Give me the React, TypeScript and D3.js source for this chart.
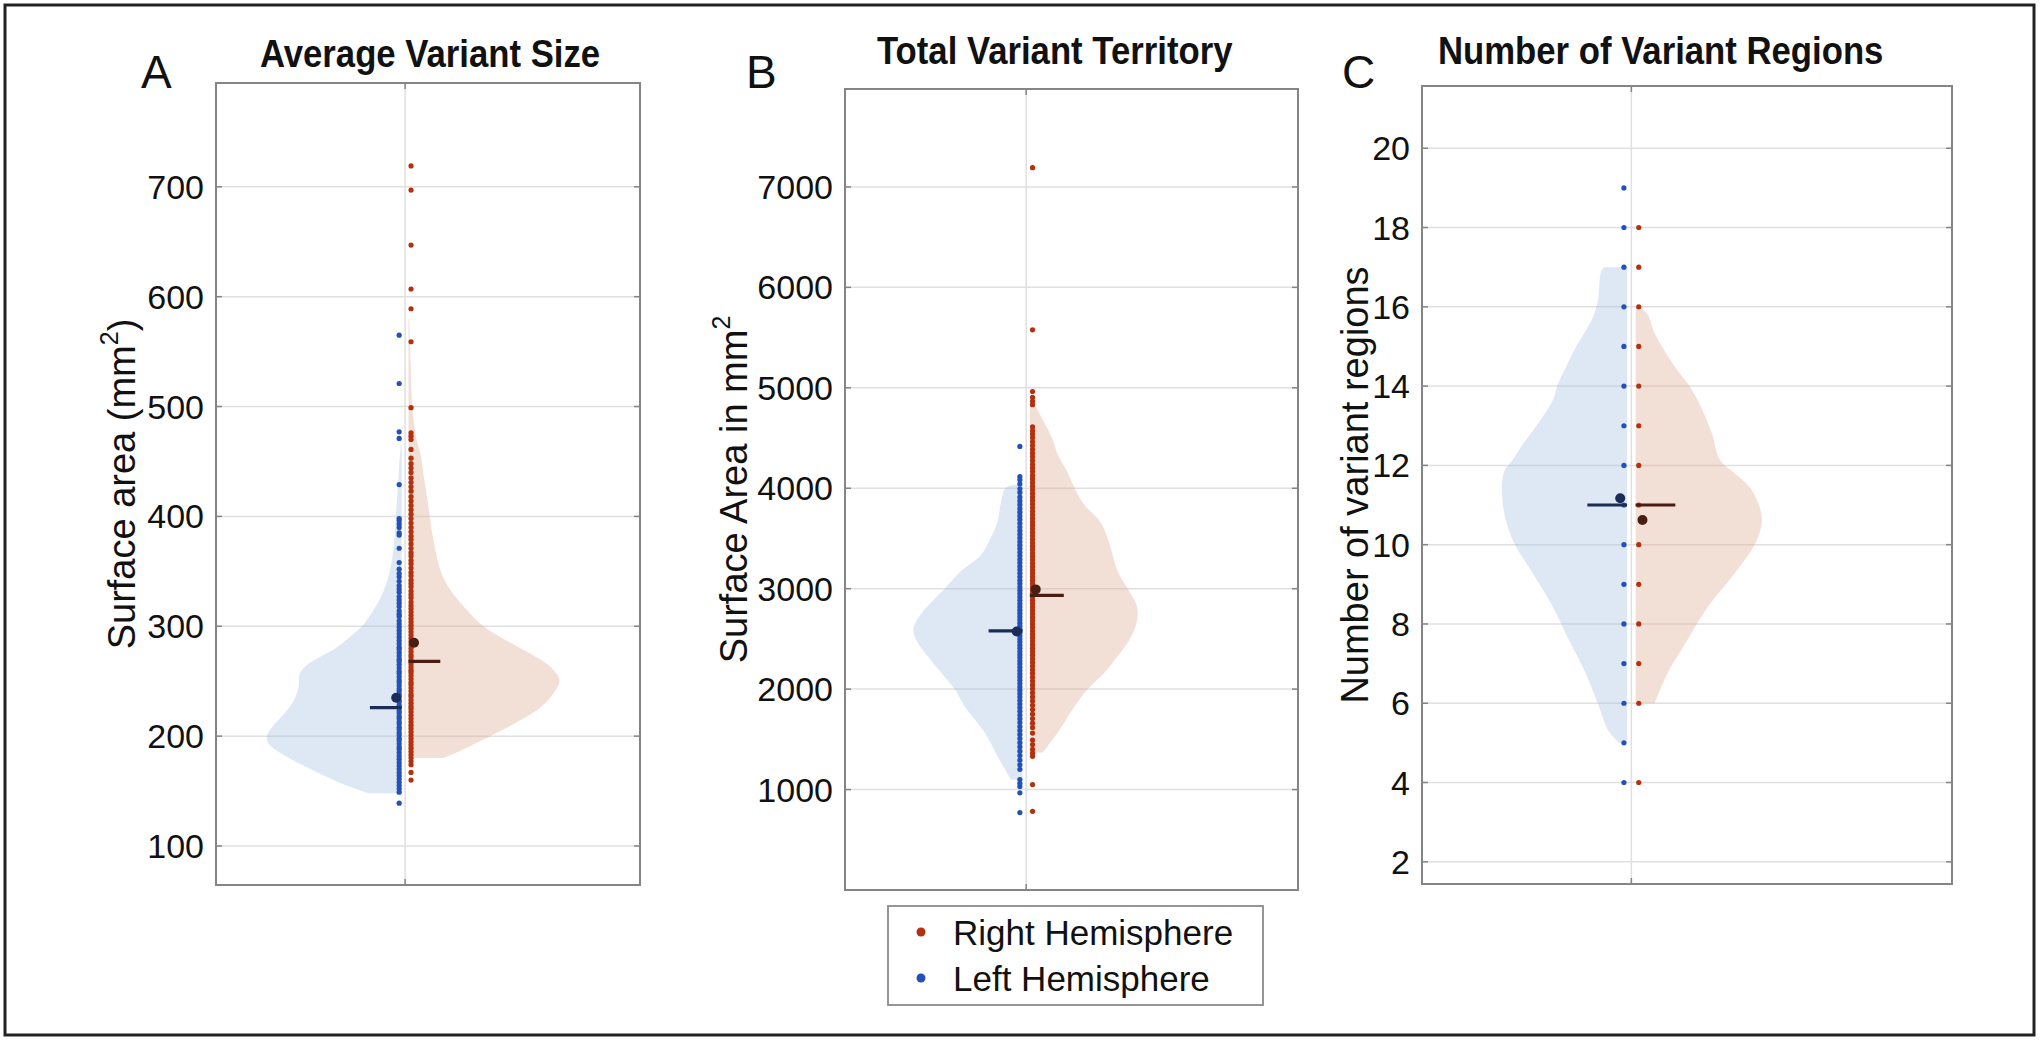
import React from "react";
import * as d3 from "d3";

const W = 2040;
const H = 1043;
const FONT = "Liberation Sans, Arial, Helvetica, sans-serif";

// ---- values ----
// panel A: average variant size (mm2), one value per subject
const avgSizeLeft = [565, 521, 477, 471, 429, 398, 396, 393, 390, 385, 383, 371, 358, 352, 348, 345, 341, 337, 334, 331, 327, 324, 321, 318, 314, 311, 309, 305, 302, 299, 296, 293, 290, 287, 284, 281, 279, 276, 273, 270, 268, 265, 262, 259, 257, 254, 251, 249, 246, 243, 241, 238, 236, 233, 231, 228, 226, 223, 221, 218, 216, 213, 211, 208, 206, 203, 201, 198, 196, 193, 190, 188, 185, 182, 179, 176, 173, 170, 167, 164, 161, 158, 155, 152, 149, 139];
const avgSizeRight = [719, 697, 647, 607, 589, 559, 499, 476, 473, 470, 461, 453, 448, 444, 440, 435, 431, 427, 423, 418, 414, 410, 406, 402, 398, 394, 390, 386, 382, 379, 375, 371, 367, 364, 360, 357, 353, 349, 346, 342, 339, 336, 332, 329, 326, 322, 319, 316, 313, 310, 307, 304, 301, 298, 295, 292, 289, 286, 283, 280, 277, 274, 272, 269, 266, 263, 260, 258, 255, 252, 249, 247, 244, 241, 238, 236, 233, 230, 227, 225, 222, 219, 216, 213, 210, 207, 204, 201, 198, 195, 192, 189, 186, 183, 180, 177, 174, 167, 160];
// panel B: total variant territory (mm2)
const totalTerrLeft = [4416, 4117, 4085, 4043, 3995, 3958, 3912, 3874, 3836, 3797, 3762, 3724, 3688, 3651, 3613, 3578, 3541, 3505, 3468, 3433, 3398, 3362, 3327, 3291, 3258, 3222, 3188, 3153, 3119, 3084, 3051, 3017, 2984, 2950, 2917, 2884, 2851, 2818, 2786, 2754, 2721, 2689, 2657, 2626, 2594, 2562, 2531, 2499, 2468, 2437, 2406, 2374, 2343, 2312, 2280, 2249, 2217, 2185, 2153, 2121, 2088, 2055, 2022, 1989, 1955, 1921, 1886, 1851, 1815, 1779, 1742, 1705, 1667, 1628, 1589, 1549, 1508, 1467, 1425, 1382, 1338, 1293, 1247, 1201, 1100, 1062, 1031, 968, 771];
const totalTerrRight = [7192, 5577, 4963, 4905, 4868, 4832, 4612, 4574, 4541, 4503, 4462, 4425, 4388, 4349, 4313, 4275, 4238, 4202, 4166, 4128, 4093, 4057, 4021, 3984, 3948, 3913, 3877, 3842, 3806, 3771, 3735, 3700, 3665, 3630, 3596, 3561, 3526, 3492, 3457, 3423, 3389, 3355, 3321, 3287, 3253, 3219, 3186, 3152, 3118, 3085, 3051, 3018, 2984, 2951, 2918, 2884, 2851, 2817, 2784, 2750, 2716, 2683, 2649, 2615, 2581, 2547, 2512, 2478, 2443, 2408, 2373, 2338, 2302, 2266, 2230, 2193, 2156, 2118, 2080, 2042, 2003, 1963, 1922, 1881, 1839, 1796, 1752, 1707, 1661, 1618, 1562, 1493, 1448, 1401, 1362, 1331, 1050, 783];
// panel C: number of variant regions
const regionsLeft = [4, 5, 6, 7, 8, 9, 10, 11, 12, 13, 14, 15, 16, 17, 18, 19];
const regionsRight = [4, 6, 7, 8, 9, 10, 11, 12, 13, 14, 15, 16, 17, 18];

// [left, right] hemisphere
const avgSizeMean = [235, 285];
const avgSizeMedian = [226, 268];
const totalTerrMean = [2573, 2993];
const totalTerrMedian = [2580, 2933];
const regionsMean = [11.17, 10.62];
const regionsMedian = [11, 11];

// half violin outlines: [value, half width in x-axis units]
const avgSizeLeftViolin = [[148, 0.078], [155, 0.13], [165, 0.189], [175, 0.241], [185, 0.288], [193, 0.314], [200, 0.318], [210, 0.302], [220, 0.278], [232, 0.255], [245, 0.243], [256, 0.241], [264, 0.226], [272, 0.193], [280, 0.156], [290, 0.123], [300, 0.094], [315, 0.066], [330, 0.045], [350, 0.028], [380, 0.017], [410, 0.012], [440, 0.007], [465, 0.002]];
const avgSizeRightViolin = [[180, 0.083], [185, 0.113], [197, 0.177], [200, 0.193], [211, 0.248], [226, 0.311], [239, 0.342], [251, 0.356], [263, 0.335], [275, 0.288], [287, 0.231], [300, 0.177], [318, 0.13], [333, 0.099], [348, 0.078], [378, 0.059], [409, 0.047], [439, 0.035], [457, 0.028], [470, 0.019], [500, 0.009], [540, 0.005], [580, 0.002]];
const totalTerrLeftViolin = [[1100, 0.026], [1330, 0.055], [1570, 0.084], [1830, 0.128], [2000, 0.15], [2170, 0.181], [2330, 0.21], [2500, 0.236], [2600, 0.241], [2730, 0.227], [2900, 0.194], [3000, 0.172], [3170, 0.137], [3330, 0.093], [3500, 0.071], [3670, 0.055], [3830, 0.049], [4000, 0.038], [4035, 0.02]];
const totalTerrRightViolin = [[1370, 0.029], [1570, 0.062], [1830, 0.099], [2000, 0.128], [2170, 0.166], [2330, 0.194], [2500, 0.221], [2670, 0.236], [2830, 0.236], [3000, 0.216], [3170, 0.194], [3330, 0.183], [3500, 0.172], [3670, 0.155], [3830, 0.121], [4000, 0.099], [4170, 0.082], [4330, 0.062], [4500, 0.049], [4830, 0.011]];
const regionsLeftViolin = [[5.0, 0.015], [5.32, 0.036], [5.91, 0.053], [6.75, 0.078], [7.6, 0.11], [8.43, 0.14], [9.28, 0.178], [10.12, 0.216], [10.96, 0.234], [11.8, 0.233], [12.14, 0.216], [12.64, 0.191], [12.81, 0.181], [13.23, 0.159], [13.65, 0.14], [14.07, 0.13], [14.49, 0.115], [14.9, 0.1], [15.33, 0.081], [15.75, 0.064], [16.17, 0.055], [16.9, 0.049], [17.0, 0.043]];
const regionsRightViolin = [[6.0, 0.036], [6.75, 0.06], [7.6, 0.098], [8.43, 0.136], [9.28, 0.187], [10.12, 0.229], [10.7, 0.238], [11.38, 0.219], [11.8, 0.187], [12.14, 0.159], [12.81, 0.144], [13.65, 0.117], [14.07, 0.098], [14.49, 0.074], [15.33, 0.036], [15.8, 0.023], [16.0, 0.008]];

const avgSizeTicks = [100, 200, 300, 400, 500, 600, 700];
const totalTerrTicks = [1000, 2000, 3000, 4000, 5000, 6000, 7000];
const regionsTicks = [2, 4, 6, 8, 10, 12, 14, 16, 18, 20];

const legendLabels = ["Right Hemisphere", "Left Hemisphere"];

// ---- styling ----
const blueDot = "#2451b9";
const redDot = "#b4300e";
const blueFill = "rgb(160,190,225)";
const redFill = "rgb(220,170,145)";
const blueMean = "#1b2d57";
const redMean = "#4a1d12";
const gridColor = "#e0e0e0";
const boxColor = "#858585";

const panels = [
  {
    letter: "A", title: "Average Variant Size", titleX: 260, titleY: 67,
    letterX: 141, ylabel: ["Surface area (mm", "2", ")"], ylabelX: 135,
    box: { l: 216, r: 640, t: 83, b: 885 }, yDomain: [64.5, 794.5], xDomain: [0.554, 1.554],
    ticks: avgSizeTicks, left: avgSizeLeft, right: avgSizeRight,
    leftViolin: avgSizeLeftViolin, rightViolin: avgSizeRightViolin,
    mean: avgSizeMean, median: avgSizeMedian,
  },
  {
    letter: "B", title: "Total Variant Territory", titleX: 877, titleY: 64,
    letterX: 746, ylabel: ["Surface Area in mm", "2", ""], ylabelX: 747,
    box: { l: 845, r: 1298, t: 89, b: 890 }, yDomain: [0, 7975], xDomain: [0.6, 1.6],
    ticks: totalTerrTicks, left: totalTerrLeft, right: totalTerrRight,
    leftViolin: totalTerrLeftViolin, rightViolin: totalTerrRightViolin,
    mean: totalTerrMean, median: totalTerrMedian,
  },
  {
    letter: "C", title: "Number of Variant Regions", titleX: 1438, titleY: 64,
    letterX: 1342, ylabel: ["Number of variant regions", "", ""], ylabelX: 1368,
    box: { l: 1422, r: 1952, t: 86, b: 884 }, yDomain: [1.44, 21.57], xDomain: [0.605, 1.605],
    ticks: regionsTicks, left: regionsLeft, right: regionsRight,
    leftViolin: regionsLeftViolin, rightViolin: regionsRightViolin,
    mean: regionsMean, median: regionsMedian,
  },
];

const GAP = 0.008; // white strip between the two halves
const DOT_OFF = 0.014;
const MEAN_OFF = 0.021;
const MED_LEN = 0.075;

function Panel({ p }) {
  const { box } = p;
  const y = d3.scaleLinear().domain(p.yDomain).range([box.b, box.t]);
  const x = d3.scaleLinear().domain(p.xDomain).range([box.l, box.r]);

  const half = (side: number) =>
    d3
      .area<number[]>()
      .y((d) => y(d[0]))
      .x0(x(1 + side * GAP))
      .x1((d) => x(1 + side * (GAP + d[1])))
      .curve(d3.curveCatmullRom.alpha(0.5));

  return (
    <g>
      {/* grid */}
      {p.ticks.map((t) => (
        <line key={"g" + t} x1={box.l} x2={box.r} y1={y(t)} y2={y(t)} stroke={gridColor} strokeWidth={1.5} />
      ))}
      <line x1={x(1)} x2={x(1)} y1={box.t} y2={box.b} stroke={gridColor} strokeWidth={1.5} />

      {/* violins */}
      <path d={half(-1)(p.leftViolin) || ""} fill={blueFill} fillOpacity={0.36} />
      <path d={half(1)(p.rightViolin) || ""} fill={redFill} fillOpacity={0.36} />

      {/* raw points */}
      {p.left.map((v, i) => (
        <circle key={"l" + i} cx={x(1 - DOT_OFF)} cy={y(v)} r={2.6} fill={blueDot} />
      ))}
      {p.right.map((v, i) => (
        <circle key={"r" + i} cx={x(1 + DOT_OFF)} cy={y(v)} r={2.6} fill={redDot} />
      ))}

      {/* median lines + mean markers */}
      <line x1={x(1 - GAP)} x2={x(1 - GAP - MED_LEN)} y1={y(p.median[0])} y2={y(p.median[0])} stroke={blueMean} strokeWidth={3.2} />
      <line x1={x(1 + GAP)} x2={x(1 + GAP + MED_LEN)} y1={y(p.median[1])} y2={y(p.median[1])} stroke={redMean} strokeWidth={3.2} />
      <circle cx={x(1 - MEAN_OFF)} cy={y(p.mean[0])} r={5} fill={blueMean} />
      <circle cx={x(1 + MEAN_OFF)} cy={y(p.mean[1])} r={5} fill={redMean} />

      {/* box + ticks */}
      <rect x={box.l} y={box.t} width={box.r - box.l} height={box.b - box.t} fill="none" stroke={boxColor} strokeWidth={2} />
      {p.ticks.map((t) => (
        <g key={"t" + t}>
          <line x1={box.l} x2={box.l + 6} y1={y(t)} y2={y(t)} stroke={boxColor} strokeWidth={1.5} />
          <line x1={box.r} x2={box.r - 6} y1={y(t)} y2={y(t)} stroke={boxColor} strokeWidth={1.5} />
          <text x={box.l - 12} y={y(t)} textAnchor="end" dominantBaseline="central" fontSize={34} fontFamily={FONT} fill="#111">
            {t}
          </text>
        </g>
      ))}
      <line x1={x(1)} x2={x(1)} y1={box.t} y2={box.t + 6} stroke={boxColor} strokeWidth={1.5} />
      <line x1={x(1)} x2={x(1)} y1={box.b} y2={box.b - 6} stroke={boxColor} strokeWidth={1.5} />

      {/* y label */}
      <text
        transform={`translate(${p.ylabelX},${(box.t + box.b) / 2}) rotate(-90)`}
        textAnchor="middle"
        fontSize={38}
        fontFamily={FONT}
        fill="#111"
      >
        {p.ylabel[0]}
        {p.ylabel[1] && (
          <tspan fontSize={25} dy={-17}>
            {p.ylabel[1]}
          </tspan>
        )}
        {p.ylabel[2] && <tspan dy={17}>{p.ylabel[2]}</tspan>}
      </text>

      {/* title + panel letter */}
      <text
        transform={`translate(${p.titleX},${p.titleY}) scale(0.89,1)`}
        fontSize={39}
        fontWeight="bold"
        fontFamily={FONT}
        fill="#111"
      >
        {p.title}
      </text>
      <text x={p.letterX} y={88} fontSize={46} fontFamily={FONT} fill="#111">
        {p.letter}
      </text>
    </g>
  );
}

export default function App() {
  const lg = { l: 888, r: 1263, t: 906, b: 1005 };
  const legendColors = [redDot, blueDot];
  return (
    <svg width={W} height={H} style={{ position: "absolute", left: 0, top: 0, background: "#fff" }}>
      <rect x={0} y={0} width={W} height={H} fill="#fff" />
      <rect x={5} y={5} width={2029} height={1030} fill="none" stroke="#222" strokeWidth={3} />
      {panels.map((p) => (
        <Panel key={p.letter} p={p} />
      ))}
      {/* legend */}
      <rect x={lg.l} y={lg.t} width={lg.r - lg.l} height={lg.b - lg.t} fill="#fff" stroke="#8a8a8a" strokeWidth={1.8} />
      {legendLabels.map((lab, i) => (
        <g key={lab}>
          <circle cx={921} cy={932 + i * 46} r={4.5} fill={legendColors[i]} />
          <text x={953} y={932 + i * 46} dominantBaseline="central" fontSize={35} fontFamily={FONT} fill="#111">
            {lab}
          </text>
        </g>
      ))}
    </svg>
  );
}
